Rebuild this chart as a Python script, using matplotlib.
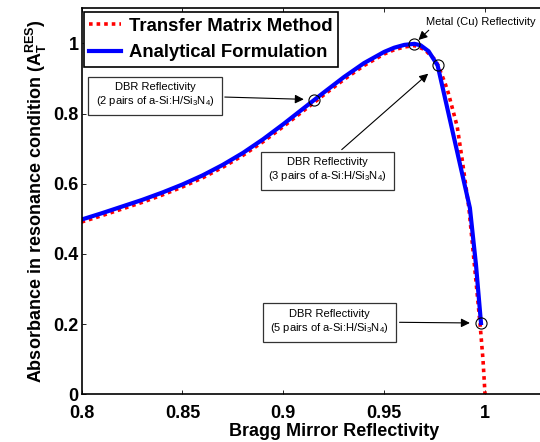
import matplotlib
matplotlib.use("Agg")
import matplotlib.pyplot as plt
from matplotlib.ticker import FuncFormatter

plt.rcParams['font.family'] = ['Liberation Sans', 'DejaVu Sans']
plt.rcParams['mathtext.fontset'] = 'custom'
plt.rcParams['mathtext.rm'] = 'Liberation Sans'
plt.rcParams['mathtext.bf'] = 'Liberation Sans:bold'
plt.rcParams['mathtext.it'] = 'Liberation Sans:italic'

# reflectivity / absorbance
r_analytic = [0.800, 0.810, 0.820, 0.830, 0.840, 0.850, 0.860, 0.870, 0.880, 0.890,
              0.900, 0.910, 0.920, 0.930, 0.940, 0.950, 0.955, 0.960, 0.965, 0.968,
              0.972, 0.9765, 0.9925, 0.9955, 0.998]
a_analytic = [0.498, 0.516, 0.535, 0.554, 0.575, 0.598, 0.624, 0.654, 0.688, 0.727,
              0.770, 0.815, 0.860, 0.904, 0.944, 0.976, 0.988, 0.996, 0.999, 0.995,
              0.978, 0.9375, 0.531, 0.370, 0.203]

r_tmm = [0.800, 0.810, 0.820, 0.830, 0.840, 0.850, 0.860, 0.870, 0.880, 0.890,
         0.900, 0.910, 0.920, 0.930, 0.940, 0.950, 0.955, 0.960, 0.965, 0.970,
         0.975, 0.9765, 0.980, 0.9818, 0.9862, 0.9887, 0.9920, 0.9945, 0.9975,
         0.9990, 1.000]
a_tmm = [0.491, 0.509, 0.528, 0.547, 0.568, 0.591, 0.617, 0.647, 0.681, 0.720,
         0.763, 0.808, 0.853, 0.897, 0.937, 0.970, 0.982, 0.990, 0.994, 0.983,
         0.955, 0.940, 0.890, 0.859, 0.7635, 0.668, 0.531, 0.383, 0.203,
         0.098, 0.000]

# marked points: 2, 3, 5 DBR pairs and the Cu mirror
mark_r = [0.915, 0.965, 0.9765, 0.998]
mark_a = [0.840, 0.999, 0.9375, 0.203]

fig = plt.figure(figsize=(5.4, 4.42), dpi=100)
ax = fig.add_axes([0.151, 0.108, 0.934, 0.873])

ax.plot(r_tmm, a_tmm, color='#ff0000', lw=2.6, linestyle=(0, (1, 1.1)),
        dash_capstyle='butt', label='Transfer Matrix Method')
ax.plot(r_analytic, a_analytic, color='#0000ff', lw=3, label='Analytical Formulation')
ax.plot(mark_r, mark_a, 'o', ms=8, mfc='none', mec='k', mew=0.8)

ax.set_xlim(0.8, 1.05)
ax.set_ylim(0, 1.1)
ax.set_xticks([0.8, 0.85, 0.9, 0.95, 1.0])
ax.set_yticks([0, 0.2, 0.4, 0.6, 0.8, 1.0])
fmt = FuncFormatter(lambda v, p: '%g' % round(v, 3))
ax.xaxis.set_major_formatter(fmt)
ax.yaxis.set_major_formatter(fmt)
ax.tick_params(direction='in', length=3, width=0.6, top=True, right=False,
               labelsize=13)
ax.tick_params(axis='x', pad=7.5)
ax.tick_params(axis='y', pad=2)
for lab in ax.get_xticklabels() + ax.get_yticklabels():
    lab.set_fontweight('bold')
for s in ax.spines.values():
    s.set_linewidth(1.2)

ax.set_xlabel('Bragg Mirror Reflectivity', fontsize=13, fontweight='bold', labelpad=1)
ax.set_ylabel(r'Absorbance in resonance condition ($\mathbf{A_T^{RES}}$)',
              fontsize=13, fontweight='bold', labelpad=3)

leg = ax.legend(loc='upper left', bbox_to_anchor=(0.004, 0.99), borderaxespad=0,
                fancybox=False, edgecolor='k', framealpha=1,
                prop={'size': 13.3, 'weight': 'bold'},
                handlelength=1.75, handletextpad=0.4, labelspacing=0.5,
                borderpad=0.3)
leg.get_frame().set_linewidth(1.2)

box = dict(boxstyle='square,pad=0.65', fc='white', ec='#333333', lw=0.9)
arrow = dict(arrowstyle='-|>', color='k', lw=0.8, mutation_scale=13)

ax.annotate('DBR Reflectivity\n(2 pairs of a-Si:H/Si$_3$N$_4$)',
            xy=(mark_r[0], mark_a[0]), xytext=(0.8364, 0.853),
            ha='center', va='center', fontsize=8, bbox=box,
            arrowprops=dict(arrow, shrinkB=7))
ax.annotate('DBR Reflectivity\n(3 pairs of a-Si:H/Si$_3$N$_4$)',
            xy=(mark_r[2], mark_a[2]), xytext=(0.9218, 0.639),
            ha='center', va='center', fontsize=8, bbox=box,
            arrowprops=dict(arrow, shrinkB=9, relpos=(0.55, 1.0)))
ax.annotate('DBR Reflectivity\n(5 pairs of a-Si:H/Si$_3$N$_4$)',
            xy=(mark_r[3], mark_a[3]), xytext=(0.923, 0.207),
            ha='center', va='center', fontsize=8, bbox=box,
            arrowprops=dict(arrow, shrinkB=8))
ax.annotate('Metal (Cu) Reflectivity',
            xy=(mark_r[1], mark_a[1]), xytext=(0.998, 1.06),
            ha='center', va='center', fontsize=8,
            arrowprops=dict(arrow, shrinkA=0, shrinkB=4, relpos=(0.06, 0.1)))

fig.savefig('out.png', dpi=100)
